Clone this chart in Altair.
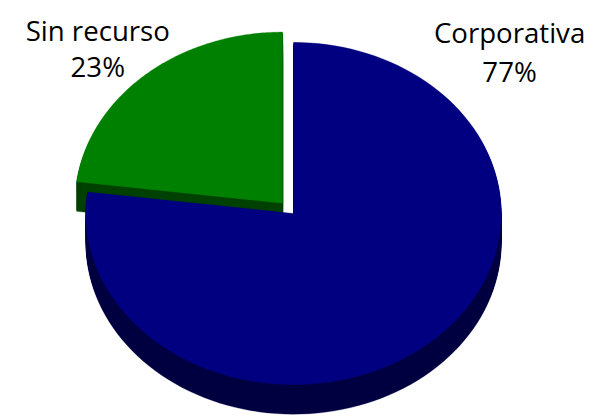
import altair as alt
import numpy as np
import pandas as pd

# ---------------- data ----------------
categories = ["Corporativa", "Sin recurso"]
values = [77, 23]

# ---------------- style ----------------
top_colors = ["#000080", "#008000"]
side_colors = ["#000040", "#004000"]

W, H = 587, 409                 # plot area in px (autosize none, padding 0)
CX_PX, CY_PX = 289.5, 205.5     # pie centre in px
RX_PX, RY_PX = 210.5, 173.5     # ellipse semi-axes in px
DEPTH_PX = 30
EXPLODE = {"Sin recurso": 0.08}
N_ARC = 120
N_DEPTH = 30

FONT = "Open Sans"
FONT_SIZE = 28
# label anchor: x, baseline of name, baseline of percentage (px)
LABEL_POS = {"Corporativa": (508.5, 33.0, 72.0), "Sin recurso": (91.0, 30.5, 67.0)}

# scale domains so that unit circle -> ellipse of the given size
x_dom = [-CX_PX / RX_PX, (W - CX_PX) / RX_PX]
y_dom = [-(H - CY_PX) / RY_PX, CY_PX / RY_PX]
depth_units = DEPTH_PX / RY_PX

# ---------------- geometry from the values ----------------
total = sum(values)
cum = np.cumsum([0] + values) / total
rows = []
for idx, (cat, v) in enumerate(zip(categories, values)):
    a0, a1 = cum[idx] * 2 * np.pi, cum[idx + 1] * 2 * np.pi
    mid = (a0 + a1) / 2
    ex = EXPLODE.get(cat, 0.0)
    ox, oy = ex * np.sin(mid), ex * np.cos(mid)
    for k in range(N_DEPTH + 1):
        dz = k * depth_units / N_DEPTH
        rows.append(dict(category=cat, layer=k, step=-1, x=ox, y=oy - dz))
        for i in range(N_ARC + 1):
            th = a0 + (a1 - a0) * i / N_ARC
            rows.append(dict(category=cat, layer=k, step=i,
                             x=ox + np.sin(th), y=oy + np.cos(th) - dz))
df = pd.DataFrame(rows)

label_df = pd.DataFrame({
    "category": categories,
    "pct": [f"{round(100 * v / total)}%" for v in values],
})

X = alt.X("x:Q", scale=alt.Scale(domain=x_dom, nice=False, zero=False), axis=None)
Y = alt.Y("y:Q", scale=alt.Scale(domain=y_dom, nice=False, zero=False), axis=None)

base = alt.Chart(df)


def slice_layer(idx, side):
    cat = categories[idx]
    color = side_colors[idx] if side else top_colors[idx]
    cond = (alt.datum.layer > 0) if side else (alt.datum.layer == 0)
    return (
        base.transform_filter(alt.datum.category == cat)
        .transform_filter(cond)
        .mark_line(filled=True, interpolate="linear-closed", fill=color,
                   stroke=color, strokeWidth=0.3)
        .encode(x=X, y=Y, order=alt.Order("step:Q"), detail="layer:N")
    )


def label_layers(idx):
    cat = categories[idx]
    lx, ly1, ly2 = LABEL_POS[cat]
    lab = alt.Chart(label_df).transform_filter(alt.datum.category == cat).mark_text(
        font=FONT, fontSize=FONT_SIZE, align="center", baseline="alphabetic", color="black"
    )
    return [
        lab.encode(x=alt.value(lx), y=alt.value(ly1), text="category:N"),
        lab.encode(x=alt.value(lx), y=alt.value(ly2), text="pct:N"),
    ]


layers = []
for idx in reversed(range(len(categories))):
    layers.append(slice_layer(idx, True))
    layers.append(slice_layer(idx, False))
for idx in range(len(categories)):
    layers.extend(label_layers(idx))

chart = (
    alt.layer(*layers)
    .properties(width=W, height=H, padding=0,
                autosize=alt.AutoSizeParams(type="none"), background="white")
    .configure_view(stroke=None)
)

chart.save("out.html", embed_options={"renderer": "svg", "actions": False})
